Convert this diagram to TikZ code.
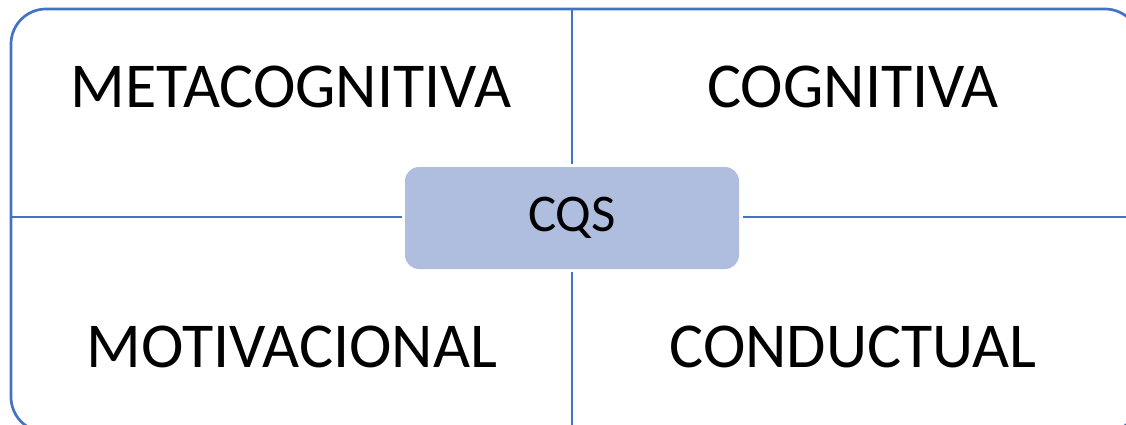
\documentclass[tikz,border=0pt]{standalone}
\usepackage{fontspec}
\setmainfont{Carlito}
\definecolor{frame}{HTML}{4472C4}
\definecolor{core}{HTML}{AFBDDF}
\begin{document}
\begin{tikzpicture}[x=1pt,y=-1pt,
  line/.style={draw=frame,line width=2.7pt},
  quad/.style={font=\fontsize{64}{70}\selectfont,text=black,inner sep=0pt},
  corebox/.style={fill=core,rounded corners=14pt,minimum width=334pt,minimum height=102pt,
    font=\fontsize{53}{58}\selectfont,inner sep=0pt}]
\useasboundingbox (0,0) rectangle (1126,424);
\begin{scope}
  \clip (0,0) rectangle (1126,424);
  \draw[line,rounded corners=35pt] (11,9) rectangle (1140,432);
  \coordinate (top) at (572,9);
  \coordinate (bot) at (572,432);
  \coordinate (lft) at (11,217);
  \coordinate (rgt) at (1140,217);
  \node[corebox] (cqs) at (572,218) {CQS};
  \coordinate (cqsN) at (572,164);
  \coordinate (cqsS) at (572,272);
  \coordinate (cqsW) at (402,217);
  \coordinate (cqsE) at (743,217);
  \draw[line] (top) -- (cqsN);
  \draw[line] (cqsS) -- (bot);
  \draw[line] (lft) -- (cqsW);
  \draw[line] (cqsE) -- (rgt);
\end{scope}
\node[quad] (meta) at (291,87) {METACOGNITIVA};
\node[quad] (cog) at (853,87) {COGNITIVA};
\node[quad] (mot) at (292,347) {MOTIVACIONAL};
\node[quad] (cond) at (853,347) {CONDUCTUAL};
\end{tikzpicture}
\end{document}
